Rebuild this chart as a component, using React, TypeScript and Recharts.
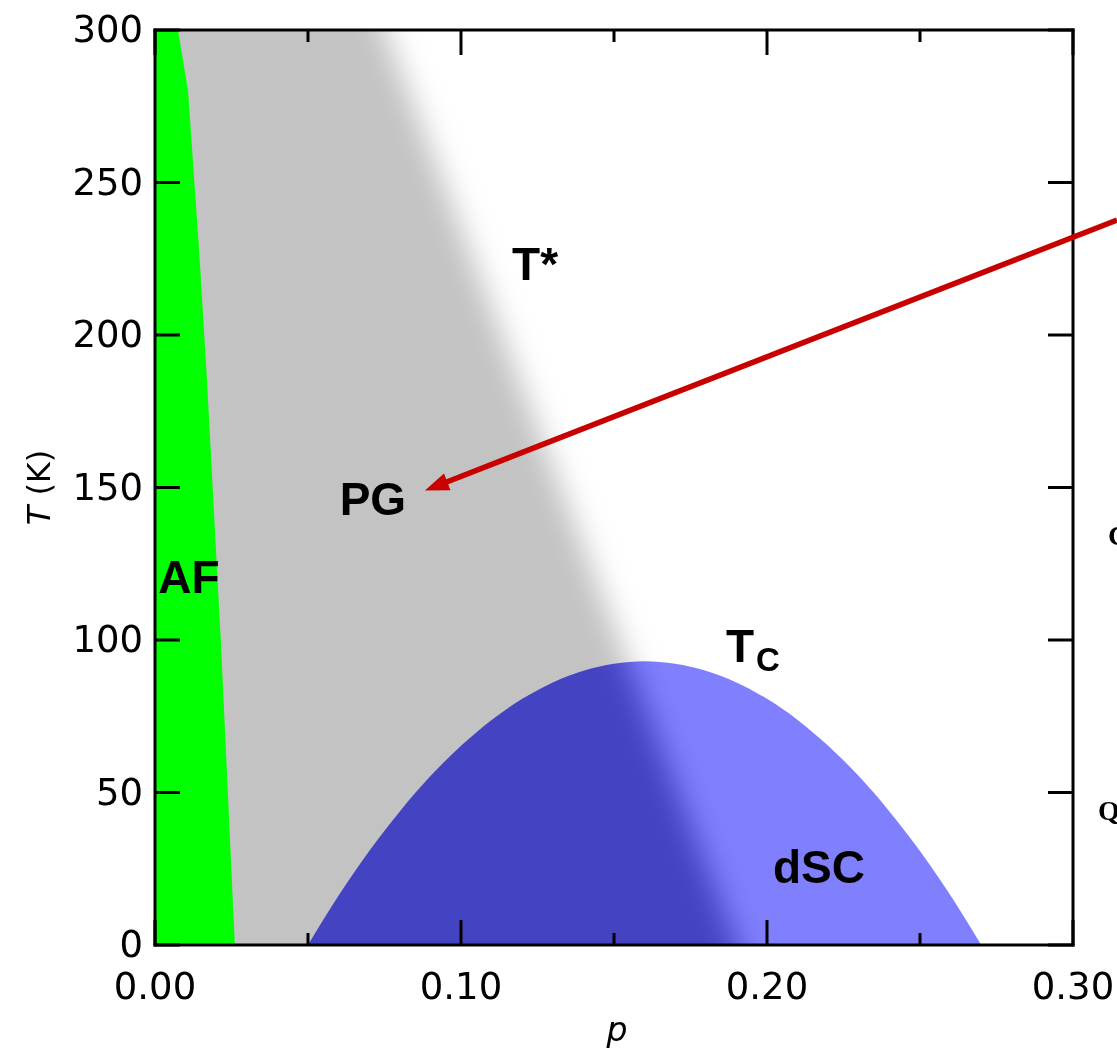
import React from 'react';
import {
  ComposedChart,
  Area,
  XAxis,
  YAxis,
  CartesianGrid,
  ReferenceLine,
  ReferenceDot,
  Label,
} from 'recharts';

// axis ticks
const pTicks = [0, 0.05, 0.1, 0.15, 0.2, 0.25, 0.3];
const tTicks = [0, 50, 100, 150, 200, 250, 300];

// AF boundary (p, T in K)
const afP = [0.0, 0.0075, 0.0108, 0.0144, 0.017, 0.0216, 0.0261];
const afT = [310, 300, 280, 228, 185, 98, 0];

// T* crossover line (runs past the frame so the blur has no edges inside)
const tStarP = [-0.02, 0.0752, 0.1327, 0.1902, 0.2];
const tStarT = [548, 300, 150, 0, -26];

// superconducting dome Tc(p)
const domeP = [0.05, 0.06, 0.07, 0.08, 0.09, 0.1, 0.11, 0.12, 0.13, 0.14, 0.15, 0.16,
  0.17, 0.18, 0.19, 0.2, 0.21, 0.22, 0.23, 0.24, 0.25, 0.26, 0.27];
const domeTc = [0, 16.2, 30.8, 43.8, 55.4, 65.3, 73.8, 80.7, 86.1, 89.9, 92.2, 93,
  92.2, 89.9, 86.1, 80.7, 73.8, 65.3, 55.4, 43.8, 30.8, 16.2, 0];

// red arrow: tip in the PG region, tail leaving the frame to the right
const arrowTip = { p: 0.0882, T: 149 };
const arrowTail = { p: 0.3144, T: 237.7 };

// region labels (baseline positions)
const labels = [
  { text: 'T*', sub: '', p: 0.1242, T: 218, anchor: 'middle' },
  { text: 'PG', sub: '', p: 0.0712, T: 141, anchor: 'middle' },
  { text: 'AF', sub: '', p: 0.0111, T: 115.4, anchor: 'middle' },
  { text: 'dSC', sub: '', p: 0.217, T: 20.3, anchor: 'middle' },
  { text: 'T', sub: 'C', p: 0.1866, T: 92.8, anchor: 'start' },
];

// letters of the neighbouring panel cut by the image edge
const edgeLetters = [
  { text: 'C', p: 0.3114, T: 131 },
  { text: 'Q', p: 0.3082, T: 41 },
];

const afData = afP.map((p, i) => ({ p, T: afT[i] }));
const tStarData = tStarP.map((p, i) => ({ p, T: tStarT[i] }));
const domeData = domeP.map((p, i) => ({ p, T: domeTc[i] }));

const tickFont = '"DejaVu Sans", sans-serif';
const labelFont = '"Liberation Sans", Arial, sans-serif';

const isMajor = (v: number) => Math.round(v * 100) % 10 === 0;

const BottomTick = (props: any) => {
  const { x, y, payload } = props;
  const v = payload.value;
  const major = isMajor(v);
  return (
    <g>
      <line x1={x} y1={y} x2={x} y2={y - (major ? 25 : 12)} stroke="#000" strokeWidth={3} />
      {major && (
        <text x={x} y={y + 54} textAnchor="middle" fontFamily={tickFont} fontSize={37} fill="#000">
          {v.toFixed(2)}
        </text>
      )}
    </g>
  );
};

const TopTick = (props: any) => {
  const { x, y, payload } = props;
  const major = isMajor(payload.value);
  return <line x1={x} y1={y} x2={x} y2={y + (major ? 25 : 12)} stroke="#000" strokeWidth={3} />;
};

const LeftTick = (props: any) => {
  const { x, y, payload } = props;
  return (
    <g>
      <line x1={x} y1={y} x2={x + 25} y2={y} stroke="#000" strokeWidth={3} />
      <text x={x - 12} y={y + 12} textAnchor="end" fontFamily={tickFont} fontSize={37} fill="#000">
        {payload.value}
      </text>
    </g>
  );
};

const RightTick = (props: any) => {
  const { x, y } = props;
  return <line x1={x} y1={y} x2={x - 25} y2={y} stroke="#000" strokeWidth={3} />;
};

const ArrowShape = (props: any) => {
  const { x1, y1, x2, y2 } = props;
  const dx = x2 - x1;
  const dy = y2 - y1;
  const len = Math.hypot(dx, dy) || 1;
  const ux = dx / len;
  const uy = dy / len;
  const head = 24;
  const half = 9;
  const bx = x1 + ux * head;
  const by = y1 + uy * head;
  const nx = -uy;
  const ny = ux;
  return (
    <g>
      <line
        x1={x1 + ux * (head - 4)}
        y1={y1 + uy * (head - 4)}
        x2={x2}
        y2={y2}
        stroke="#c80000"
        strokeWidth={5.5}
      />
      <polygon
        points={`${x1},${y1} ${bx + nx * half},${by + ny * half} ${bx - nx * half},${by - ny * half}`}
        fill="#c80000"
      />
    </g>
  );
};

const makeLabelShape = (lab: { text: string; sub: string; anchor: string }) => (props: any) => (
  <text
    x={props.cx}
    y={props.cy}
    textAnchor={lab.anchor}
    fontFamily={labelFont}
    fontWeight="bold"
    fontSize={46}
    fill="#000"
  >
    {lab.text}
    {lab.sub && (
      <tspan fontSize={33} dx={2} dy={9}>
        {lab.sub}
      </tspan>
    )}
  </text>
);

const makeEdgeShape = (text: string) => (props: any) => (
  <text
    x={props.cx}
    y={props.cy}
    fontFamily='"Liberation Serif", "DejaVu Serif", serif'
    fontWeight="bold"
    fontSize={28}
    fill="#000"
  >
    {text}
  </text>
);

export default function App() {
  return (
    <div style={{ width: 1117, height: 1051, background: '#fff' }}>
      <style>{`
        body { margin: 0; }
        .pg-area .recharts-area-area { filter: url(#pgBlur); }
        .dome-area { mix-blend-mode: difference; }
      `}</style>
      <svg width={0} height={0} style={{ position: 'absolute' }}>
        <defs>
          <filter
            id="pgBlur"
            x="-10%"
            y="-10%"
            width="120%"
            height="120%"
            colorInterpolationFilters="sRGB"
          >
            <feGaussianBlur stdDeviation={15} />
          </filter>
        </defs>
      </svg>
      <ComposedChart width={1117} height={1051} margin={{ top: 0, right: 0, bottom: 0, left: 0 }}>
        <CartesianGrid horizontal={false} vertical={false} fill="#ffffff" />

        {/* pseudogap region, edge softened along T* */}
        <Area
          className="pg-area"
          data={tStarData}
          dataKey="T"
          type="linear"
          baseValue={-60}
          fill="#c3c3c3"
          fillOpacity={1}
          stroke="none"
          dot={false}
          activeDot={false}
          isAnimationActive={false}
        />
        {/* antiferromagnet */}
        <Area
          data={afData}
          dataKey="T"
          type="linear"
          fill="#00ff00"
          fillOpacity={1}
          stroke="none"
          dot={false}
          activeDot={false}
          isAnimationActive={false}
        />
        {/* d-wave SC dome: difference blend gives light blue on white, dark blue on grey */}
        <Area
          className="dome-area"
          data={domeData}
          dataKey="T"
          type="monotone"
          fill="#7f7f00"
          fillOpacity={1}
          stroke="none"
          dot={false}
          activeDot={false}
          isAnimationActive={false}
        />

        <XAxis
          dataKey="p"
          type="number"
          domain={[0, 0.3]}
          allowDataOverflow
          ticks={pTicks}
          interval={0}
          height={106}
          tickSize={0}
          tickMargin={0}
          tickLine={false}
          tick={<BottomTick />}
          axisLine={{ stroke: '#000', strokeWidth: 3, strokeLinecap: 'square' }}
        >
          <Label
            content={(lp: any) => {
              const vb = lp.viewBox || { x: 155, y: 945, width: 918, height: 106 };
              return (
                <text
                  x={vb.x + vb.width / 2 + 3}
                  y={vb.y + 96}
                  textAnchor="middle"
                  fontFamily={tickFont}
                  fontStyle="italic"
                  fontSize={33}
                  fill="#000"
                >
                  p
                </text>
              );
            }}
          />
        </XAxis>
        <XAxis
          xAxisId="top"
          orientation="top"
          dataKey="p"
          type="number"
          domain={[0, 0.3]}
          allowDataOverflow
          ticks={pTicks}
          interval={0}
          height={30}
          tickSize={0}
          tickMargin={0}
          tickLine={false}
          tick={<TopTick />}
          axisLine={{ stroke: '#000', strokeWidth: 3, strokeLinecap: 'square' }}
        />
        <YAxis
          type="number"
          domain={[0, 300]}
          allowDataOverflow
          ticks={tTicks}
          interval={0}
          width={155}
          tickSize={0}
          tickMargin={0}
          tickLine={false}
          tick={<LeftTick />}
          axisLine={{ stroke: '#000', strokeWidth: 3, strokeLinecap: 'square' }}
        >
          <Label
            content={(lp: any) => {
              const vb = lp.viewBox || { x: 0, y: 30, width: 155, height: 915 };
              const cx = vb.x + 50;
              const cy = vb.y + vb.height / 2;
              return (
                <text
                  transform={`translate(${cx},${cy}) rotate(-90)`}
                  textAnchor="middle"
                  fontFamily={tickFont}
                  fontSize={32}
                  fill="#000"
                >
                  <tspan fontStyle="italic">T</tspan> (K)
                </text>
              );
            }}
          />
        </YAxis>
        <YAxis
          yAxisId="right"
          orientation="right"
          type="number"
          domain={[0, 300]}
          allowDataOverflow
          ticks={tTicks}
          interval={0}
          width={44}
          tickSize={0}
          tickMargin={0}
          tickLine={false}
          tick={<RightTick />}
          axisLine={{ stroke: '#000', strokeWidth: 3, strokeLinecap: 'square' }}
        />

        <ReferenceLine
          segment={[
            { x: arrowTip.p, y: arrowTip.T },
            { x: arrowTail.p, y: arrowTail.T },
          ]}
          ifOverflow="visible"
          shape={ArrowShape}
          zIndex={1500}
        />

        {labels.map((lab) => (
          <ReferenceDot
            key={lab.text + lab.sub}
            x={lab.p}
            y={lab.T}
            r={0}
            ifOverflow="visible"
            shape={makeLabelShape(lab)}
            zIndex={2000}
          />
        ))}
        {edgeLetters.map((l) => (
          <ReferenceDot
            key={l.text}
            x={l.p}
            y={l.T}
            r={0}
            ifOverflow="visible"
            shape={makeEdgeShape(l.text)}
            zIndex={2000}
          />
        ))}
      </ComposedChart>
    </div>
  );
}
